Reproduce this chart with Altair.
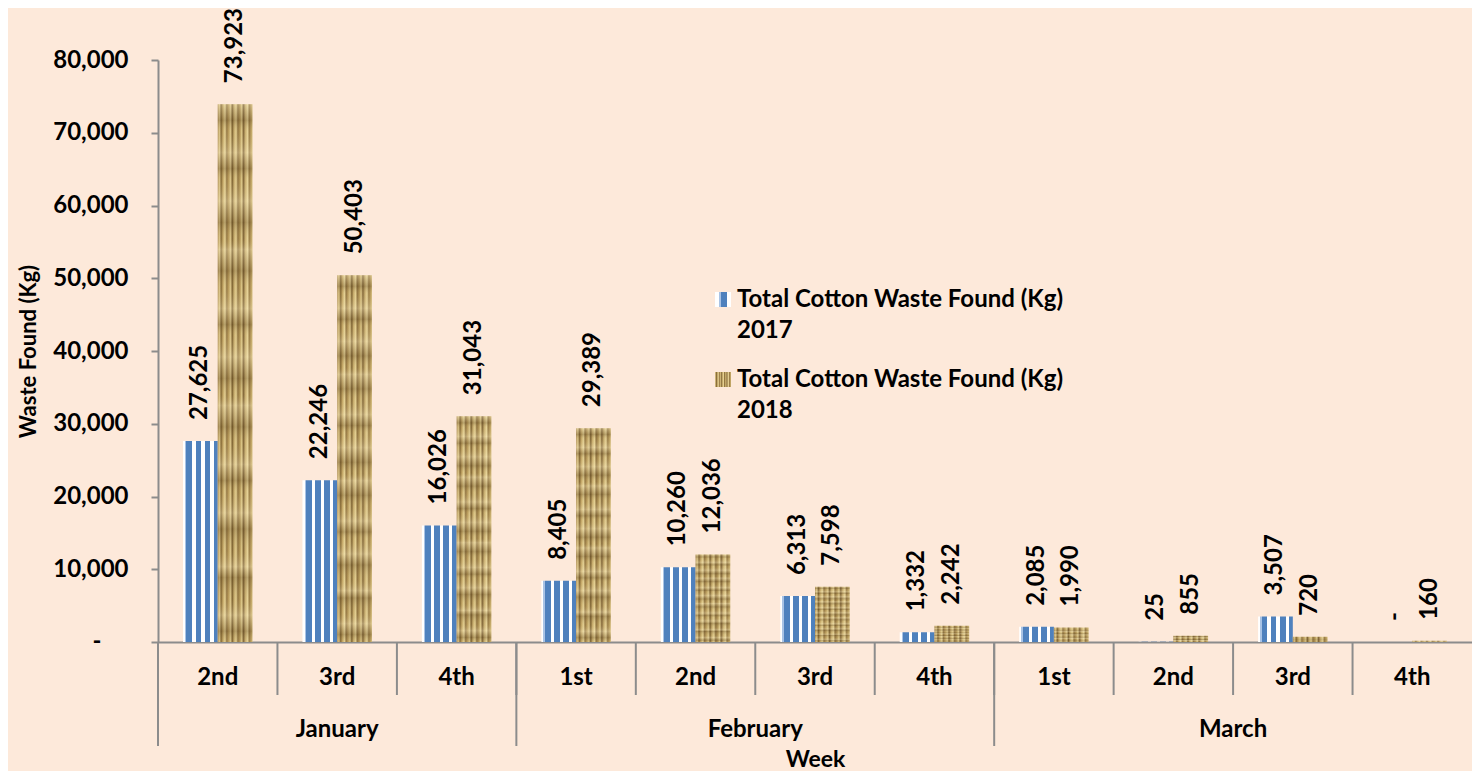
import altair as alt
import pandas as pd

# ---------------- data ----------------
months = ["January", "January", "January",
          "February", "February", "February", "February",
          "March", "March", "March", "March"]
weeks = ["2nd", "3rd", "4th", "1st", "2nd", "3rd", "4th", "1st", "2nd", "3rd", "4th"]
waste_2017 = [27625, 22246, 16026, 8405, 10260, 6313, 1332, 2085, 25, 3507, 0]
waste_2018 = [73923, 50403, 31043, 29389, 12036, 7598, 2242, 1990, 855, 720, 160]
years = ["2017", "2018"]
series_names = ["Total Cotton Waste Found (Kg)\n2017", "Total Cotton Waste Found (Kg)\n2018"]
y_ticks = [0, 10000, 20000, 30000, 40000, 50000, 60000, 70000, 80000]

keys = [f"{m}|{w}" for m, w in zip(months, weeks)]

rows = []
for k, m, w, a, b in zip(keys, months, weeks, waste_2017, waste_2018):
    for yr, v in ((years[0], a), (years[1], b)):
        rows.append({"key": k, "month": m, "week": w, "year": yr, "value": v,
                     "label": "\u00a0-\u00a0" if v == 0 else f"{v:,}"})
df = pd.DataFrame(rows)

# month label anchors / separators
month_order = []
for m in months:
    if m not in month_order:
        month_order.append(m)
mrows = []
for m in month_order:
    mk = [k for k, mm in zip(keys, months) if mm == m]
    n = len(mk)
    if n % 2 == 1:
        mrows.append({"month": m, "anchor": mk[n // 2], "mode": "center", "first": mk[0]})
    else:
        mrows.append({"month": m, "anchor": mk[n // 2 - 1], "mode": "edge", "first": mk[0]})
mdf = pd.DataFrame(mrows)
kdf = pd.DataFrame({"key": keys})
legdf = pd.DataFrame({"year": years, "name": series_names})
zdf = pd.DataFrame({"value": [y_ticks[0]], "label": ["-"]})

# ---------------- style ----------------
FONT = "Lato"
BG = "#FDE9DA"
GREY = "#8c8c8c"
BLUE = "#4f81bd"
H = 582
W = 1314
FS = 24

def stops(pairs):
    return [{"offset": o, "color": c} for o, c in pairs]

blue_stripes = stops([
    (0.00, "#ffffff"), (0.06, "#ffffff"), (0.06, "#a9c3e5"), (0.10, "#a9c3e5"),
    (0.10, BLUE), (0.27, BLUE), (0.27, "#ffffff"), (0.36, "#ffffff"),
    (0.36, BLUE), (0.53, BLUE), (0.53, "#ffffff"), (0.62, "#ffffff"),
    (0.62, BLUE), (0.79, BLUE), (0.79, "#ffffff"), (0.88, "#ffffff"),
    (0.88, BLUE), (1.00, BLUE),
])
blue_grad = {"gradient": "linear", "x1": 0, "x2": 1, "y1": 0, "y2": 0, "stops": blue_stripes}

gold_h = stops([
    (0.00, "#b0925a"), (0.05, "#dcc589"), (0.10, "#7f6331"), (0.15, "#c2a564"),
    (0.21, "#e8d598"), (0.26, "#8f7240"), (0.31, "#b89a5a"), (0.37, "#dcc68a"),
    (0.42, "#765b2c"), (0.47, "#c6ab6c"), (0.53, "#e6d294"), (0.58, "#8b6e3c"),
    (0.64, "#b29555"), (0.69, "#e0cb8d"), (0.74, "#7c6034"), (0.80, "#cbb173"),
    (0.86, "#e9d69b"), (0.91, "#967944"), (0.96, "#bb9f5f"), (1.00, "#d2ba7a"),
])
gold_grad = {"gradient": "linear", "x1": 0, "x2": 1, "y1": 0, "y2": 0, "stops": gold_h}
v_offsets = [0.0, 0.03, 0.05, 0.09, 0.12, 0.14, 0.18, 0.22, 0.25, 0.27, 0.31, 0.34,
             0.38, 0.41, 0.43, 0.47, 0.51, 0.54, 0.56, 0.60, 0.63, 0.67, 0.70, 0.72,
             0.76, 0.79, 0.83, 0.86, 0.88, 0.92, 0.95, 0.98, 1.0]
v_cols = ["rgba(255,244,205,0.30)", "rgba(90,66,28,0.30)", "rgba(200,175,110,0.10)"]
gold_v = {"gradient": "linear", "x1": 0, "x2": 0, "y1": 0, "y2": 1,
          "stops": stops([(o, v_cols[i % 3]) for i, o in enumerate(v_offsets)])}

leg_blue = {"gradient": "linear", "x1": 0, "x2": 1, "y1": 0, "y2": 0, "stops": stops([
    (0.0, "#ffffff"), (0.25, "#ffffff"), (0.25, "#a9c3e5"), (0.4, "#a9c3e5"),
    (0.4, BLUE), (0.75, BLUE), (0.75, "#ffffff"), (1.0, "#ffffff")])}

# ---------------- encodings ----------------
x_enc = alt.X("key:N", sort=keys,
              scale=alt.Scale(domain=keys, paddingInner=0, paddingOuter=0),
              axis=alt.Axis(title="Week", labelExpr="split(datum.label, '|')[1]",
                            labelAngle=0, ticks=False, labelPadding=23,
                            labelFont=FONT, labelFontSize=FS, labelFontWeight="bold",
                            labelColor="#000000", domainColor=GREY, domainWidth=2,
                            titleFont=FONT, titleFontSize=23, titleFontWeight="bold",
                            titleColor="#000000", titleY=124, titleBaseline="alphabetic",
                            grid=False))
xo_enc = alt.XOffset("year:N", scale=alt.Scale(domain=years, paddingInner=0, paddingOuter=0.72))
y_enc = alt.Y("value:Q", scale=alt.Scale(domain=[0, 80000], nice=False),
              axis=alt.Axis(values=y_ticks, title="Waste Found (Kg)",
                            labelExpr="datum.value == 0 ? '' : format(datum.value, ',')",
                            labelFont=FONT, labelFontSize=FS, labelFontWeight="bold",
                            labelColor="#000000", labelPadding=23,
                            tickSize=7, tickColor=GREY, tickWidth=2,
                            domainColor=GREY, domainWidth=2, grid=False,
                            titleFont=FONT, titleFontSize=22, titleFontWeight="bold",
                            titleColor="#000000", titleAngle=-90, titleX=-130, titleY=H / 2,
                            titleAlign="center", titleBaseline="middle"))

base = alt.Chart(df)
bars17 = base.transform_filter(alt.datum.year == years[0]).mark_bar(color=blue_grad).encode(
    x=x_enc, xOffset=xo_enc, y=y_enc)
bars18 = base.transform_filter(alt.datum.year == years[1]).mark_bar(color=gold_grad).encode(
    x=x_enc, xOffset=xo_enc, y=y_enc)
bars18v = base.transform_filter(alt.datum.year == years[1]).mark_bar(color=gold_v).encode(
    x=x_enc, xOffset=xo_enc, y=y_enc)

labels = base.mark_text(angle=270, align="left", baseline="middle", dx=21,
                        font=FONT, fontSize=FS, fontWeight="bold", color="#000000").encode(
    x=x_enc, xOffset=xo_enc, y=y_enc, text="label:N")

# zero tick label shown as a dash (accounting style)
zero_lab = alt.Chart(zdf).mark_text(font=FONT, fontSize=FS, fontWeight="bold", color="#000000",
                                    align="center", baseline="middle").encode(
    x=alt.value(-61), y=alt.Y("value:Q"), text="label:N")

# multi-level axis pieces
week_sep = alt.Chart(kdf).mark_rule(color=GREY, strokeWidth=2).encode(
    x=alt.X("key:N", sort=keys, bandPosition=0),
    y=alt.value(H), y2=alt.value(H + 53))
month_sep = alt.Chart(mdf).mark_rule(color=GREY, strokeWidth=2).encode(
    x=alt.X("first:N", sort=keys, bandPosition=0),
    y=alt.value(H), y2=alt.value(H + 104))
mtext_c = alt.Chart(mdf).transform_filter(alt.datum.mode == "center").mark_text(
    font=FONT, fontSize=FS, fontWeight="bold", color="#000000", baseline="alphabetic").encode(
    x=alt.X("anchor:N", sort=keys, bandPosition=0.5), y=alt.value(H + 95), text="month:N")
mtext_e = alt.Chart(mdf).transform_filter(alt.datum.mode == "edge").mark_text(
    font=FONT, fontSize=FS, fontWeight="bold", color="#000000", baseline="alphabetic").encode(
    x=alt.X("anchor:N", sort=keys, bandPosition=1), y=alt.value(H + 95), text="month:N")

# legend (drawn manually)
leg_layers = []
for i, (yr, grad) in enumerate(((years[0], leg_blue), (years[1], gold_grad))):
    top = 232 + i * 80
    sw = alt.Chart(legdf).transform_filter(alt.datum.year == yr).mark_rect(color=grad).encode(
        x=alt.value(557), x2=alt.value(573), y=alt.value(top), y2=alt.value(top + 15))
    tx = alt.Chart(legdf).transform_filter(alt.datum.year == yr).mark_text(
        align="left", baseline="alphabetic", lineBreak="\n", lineHeight=31,
        font=FONT, fontSize=FS, fontWeight="bold", color="#000000").encode(
        x=alt.value(579), y=alt.value(top + 15), text="name:N")
    leg_layers += [sw, tx]

chart = alt.layer(bars17, bars18, bars18v, labels, zero_lab, week_sep, month_sep, mtext_c, mtext_e,
                  *leg_layers).properties(
    width=W, height=H, background=BG,
    padding={"left": 150, "top": 52, "right": 0, "bottom": 129},
    autosize=alt.AutoSizeParams(type="none"),
).configure_view(stroke=None)

chart.save("out.html", embed_options={"renderer": "svg", "actions": False})
